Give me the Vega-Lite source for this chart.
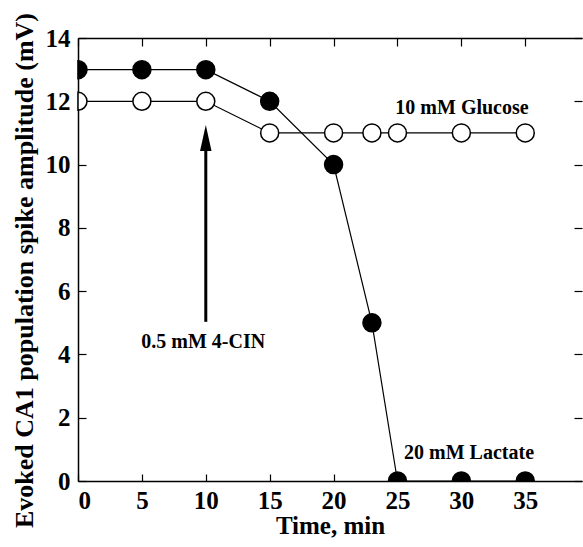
{
  "$schema": "https://vega.github.io/schema/vega-lite/v6.json",
  "autosize": "none",
  "width": 504,
  "height": 443,
  "padding": {"left": 78, "top": 38, "right": 1, "bottom": 66},
  "background": "white",
  "config": {
    "view": {"stroke": null},
    "font": "Liberation Serif",
    "axis": {
      "domainColor": "black", "domainWidth": 1.5, "tickColor": "black", "tickWidth": 1.2,
      "labelFont": "Liberation Serif", "labelFontWeight": "bold", "labelFontSize": 25, "labelColor": "black",
      "titleFont": "Liberation Serif", "titleFontWeight": "bold", "titleFontSize": 25, "titleColor": "black",
      "grid": false
    }
  },
  "datasets": {
    "series": [
      {"time": 0, "amp": 13, "cond": "20 mM Lactate"},
      {"time": 5, "amp": 13, "cond": "20 mM Lactate"},
      {"time": 10, "amp": 13, "cond": "20 mM Lactate"},
      {"time": 15, "amp": 12, "cond": "20 mM Lactate"},
      {"time": 20, "amp": 10, "cond": "20 mM Lactate"},
      {"time": 23, "amp": 5, "cond": "20 mM Lactate"},
      {"time": 25, "amp": 0, "cond": "20 mM Lactate"},
      {"time": 30, "amp": 0, "cond": "20 mM Lactate"},
      {"time": 35, "amp": 0, "cond": "20 mM Lactate"},
      {"time": 0, "amp": 12, "cond": "10 mM Glucose"},
      {"time": 5, "amp": 12, "cond": "10 mM Glucose"},
      {"time": 10, "amp": 12, "cond": "10 mM Glucose"},
      {"time": 15, "amp": 11, "cond": "10 mM Glucose"},
      {"time": 20, "amp": 11, "cond": "10 mM Glucose"},
      {"time": 23, "amp": 11, "cond": "10 mM Glucose"},
      {"time": 25, "amp": 11, "cond": "10 mM Glucose"},
      {"time": 30, "amp": 11, "cond": "10 mM Glucose"},
      {"time": 35, "amp": 11, "cond": "10 mM Glucose"}
    ],
    "labels": [
      {"time": 30.05, "amp": 11.8, "text": "10 mM Glucose"},
      {"time": 30.6, "amp": 0.88, "text": "20 mM Lactate"},
      {"time": 9.8, "amp": 4.4, "text": "0.5 mM 4-CIN"}
    ],
    "arrow": [
      {"time": 10, "y0": 5.03, "y1": 10.5, "head": 10.84}
    ]
  },
  "resolve": {"axis": {"x": "independent", "y": "independent"}},
  "layer": [
    {
      "data": {"name": "series"},
      "mark": {"type": "point", "opacity": 0},
      "encoding": {
        "x": {"field": "time", "type": "quantitative",
              "scale": {"domain": [0, 39.44], "nice": false},
              "axis": {"orient": "top", "values": [0, 5, 10, 15, 20, 25, 30, 35], "labels": false, "tickSize": -8, "title": null}},
        "y": {"field": "amp", "type": "quantitative",
              "scale": {"domain": [0, 14], "nice": false},
              "axis": {"orient": "right", "values": [0, 2, 4, 6, 8, 10, 12, 14], "labels": false, "domain": false, "tickSize": -8, "title": null}}
      }
    },
    {
      "data": {"name": "series"},
      "mark": {"type": "line", "color": "black", "strokeWidth": 1.2},
      "encoding": {
        "x": {"field": "time", "type": "quantitative",
              "axis": {"orient": "bottom", "values": [0, 5, 10, 15, 20, 25, 30, 35], "tickSize": -7, "labelPadding": 14, "title": "Time, min", "titlePadding": 0}},
        "y": {"field": "amp", "type": "quantitative",
              "axis": {"orient": "left", "values": [0, 2, 4, 6, 8, 10, 12, 14], "tickSize": -8, "labelPadding": 16, "title": "Evoked CA1 population spike amplitude (mV)", "titleFontSize": 26, "titlePadding": 8, "titleY": 232}},
        "detail": {"field": "cond"}
      }
    },
    {
      "data": {"name": "series"},
      "transform": [
        {"calculate": "datum.amp == 0 ? 'bottom' : (datum.time == 0 ? 'left' : 'full')", "as": "edge"}
      ],
      "mark": {"type": "point", "filled": true, "size": 324, "stroke": "black", "strokeWidth": 1.5, "opacity": 1},
      "encoding": {
        "x": {"field": "time", "type": "quantitative", "axis": null},
        "y": {"field": "amp", "type": "quantitative", "axis": null},
        "shape": {"field": "edge", "type": "nominal",
                  "scale": {"domain": ["full", "bottom", "left"],
                            "range": ["M1,0A1,1 0 1,1 -1,0A1,1 0 1,1 1,0Z", "M-1,0A1,1 0 0,1 1,0Z", "M0,-1A1,1 0 0,1 0,1Z"]},
                  "legend": null},
        "fill": {"field": "cond", "type": "nominal", "scale": {"domain": ["20 mM Lactate", "10 mM Glucose"], "range": ["black", "white"]}, "legend": null}
      }
    },
    {
      "data": {"name": "arrow"},
      "mark": {"type": "rule", "color": "black", "strokeWidth": 3},
      "encoding": {
        "x": {"field": "time", "type": "quantitative", "axis": null},
        "y": {"field": "y0", "type": "quantitative", "axis": null},
        "y2": {"field": "y1"}
      }
    },
    {
      "data": {"name": "arrow"},
      "mark": {"type": "point", "shape": "M0,-1L0.44,1L-0.44,1Z", "size": 680, "filled": true, "color": "black", "opacity": 1},
      "encoding": {
        "x": {"field": "time", "type": "quantitative", "axis": null},
        "y": {"field": "head", "type": "quantitative", "axis": null}
      }
    },
    {
      "data": {"name": "labels"},
      "mark": {"type": "text", "font": "Liberation Serif", "fontWeight": "bold", "fontSize": 20, "color": "black", "align": "center", "baseline": "middle"},
      "encoding": {
        "x": {"field": "time", "type": "quantitative", "axis": null},
        "y": {"field": "amp", "type": "quantitative", "axis": null},
        "text": {"field": "text"}
      }
    }
  ]
}
